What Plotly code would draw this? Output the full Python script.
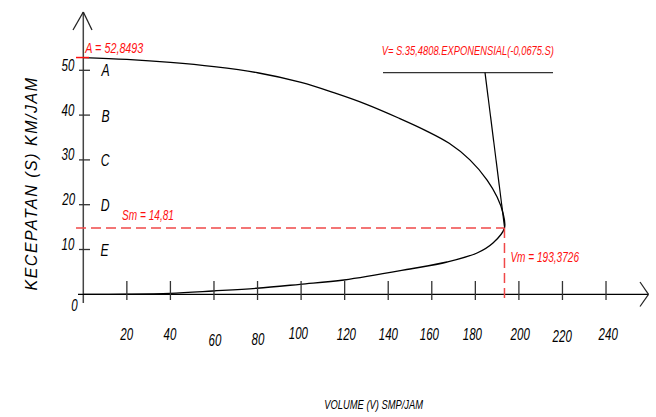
import json
import plotly.graph_objects as go

# Speed-volume relationship (upper and lower branch meet at capacity)
VOLUME = [0, 20, 40, 60, 80, 100, 115, 130, 145, 157, 168,
          177.5, 185.4, 190.0, 192.7, 193.3726,
          188.1, 180.8, 167.0, 150.0, 119.7, 99.5, 79.7, 59.5, 39.8, 20.0, 0]
SPEED = [52.8493, 52.42, 51.75, 50.8, 49.45, 47.3, 45.0, 42.4, 39.3, 36.6, 33.7,
         30.0, 25.5, 21.7, 18.1, 14.81,
         11.45, 9.22, 7.21, 5.65, 3.19, 2.23, 1.35, 0.74, 0.22, 0.04, 0]

X_TICKS = [20, 40, 60, 80, 100, 120, 140, 160, 180, 200, 220, 240]
Y_TICKS = [10, 20, 30, 40, 50]
LEVELS = ["E", "D", "C", "B", "A"]

S_FREE = 52.8493   # A
S_M = 14.81        # Sm
V_M = 193.3726     # Vm
FORMULA = "V= S.35,4808.EXPONENSIAL(-0,0675.S)"

# ---- page geometry (pixels) ----
W, H = 656, 417
X0PX, Y0PX = 83.3, 294.3       # origin
KX, KY = 2.178, 4.48           # pixels per unit


def dx(p):
    return (p - X0PX) / KX


def dy(p):
    return (Y0PX - p) / KY


def px_of_x(v):
    return X0PX + v * KX


def px_of_y(s):
    return Y0PX - s * KY


FONT = "Liberation Sans, Arial, sans-serif"
RED = "#ff1010"
DASH_RED = "#f04848"

fig = go.Figure()

fig.add_trace(go.Scatter(
    x=VOLUME, y=SPEED, mode="lines",
    line=dict(color="black", width=1.3, shape="spline", smoothing=1.0),
    hoverinfo="skip", showlegend=False,
))

shapes = []


def seg(x0, y0, x1, y1, color="black", width=1.2, dash=None):
    ln = dict(color=color, width=width)
    if dash:
        ln["dash"] = dash
    shapes.append(dict(type="line", xref="x", yref="y", x0=x0, y0=y0, x1=x1, y1=y1,
                       line=ln, layer="above"))


# axes with arrow heads
seg(0, dy(303), 0, dy(12), color="#444", width=1.5)
seg(dx(73), dy(30), 0, dy(12), color="#222", width=1.3)
seg(dx(92), dy(30), 0, dy(12), color="#222", width=1.3)
seg(dx(78), 0, dx(648.5), 0, color="black", width=1.3)
seg(dx(640), dy(282), dx(648.5), 0, color="#222", width=1.2)
seg(dx(640), dy(306.5), dx(648.5), 0, color="#222", width=1.2)

for v in X_TICKS:
    seg(v, dy(281), v, dy(300), color="#333", width=1.3)
for s in Y_TICKS:
    seg(dx(79), s, dx(90), s, color="#333", width=1.3)

# free-flow speed marker
seg(dx(76), S_FREE, dx(89), S_FREE, color=RED, width=1.5)

# capacity guide lines
seg(dx(76), S_M, V_M, S_M, color=DASH_RED, width=1.5, dash="10px,5px")
seg(V_M, S_M, V_M, dy(303), color=DASH_RED, width=1.5, dash="10px,5px")

# formula leader
seg(dx(383), dy(72.7), dx(553), dy(72.7), color="#333", width=1.3)
seg(dx(485), dy(72.7), V_M, S_M + 0.3, color="black", width=1.2)

annotations = []


def px_paper_x(p):
    return p / W


def px_paper_y(p):
    return 1 - p / H


def label(text, px, py, size, color="black", angle=0):
    annotations.append(dict(
        text=text, x=px_paper_x(px), y=px_paper_y(py), xref="paper", yref="paper",
        showarrow=False, xanchor="center", yanchor="middle", textangle=angle,
        font=dict(family=FONT, size=size, color=color, style="italic"),
    ))


# x tick labels (slight vertical stagger as drawn)
X_NUDGE = [0, 0, 6, 5, -1, 0, 0, 0, 0, 0, 2, 0]
X_SHIFT = [0, 0, 1, 0, -3, 2, 0, -2, -3, 1, 0, 2]
for v, ny, nx in zip(X_TICKS, X_NUDGE, X_SHIFT):
    label(str(v), px_of_x(v) + nx, 334 + ny, 16)

# y tick labels and level letters
for s, letter in zip(Y_TICKS, LEVELS):
    label(str(s), 68, px_of_y(s) - 5, 16)
    label(letter, 105, px_of_y(s) + (0 if letter == "A" else 1), 17)
label("0", 74, 305, 16)

# value labels
label("A = " + f"{S_FREE:.4f}".replace(".", ","), 114.5, 48, 15, color=RED)
label("Sm = " + f"{S_M:.2f}".replace(".", ","), 147.5, 215, 14, color=RED)
label("Vm = " + f"{V_M:.4f}".replace(".", ","), 545, 257, 14, color=RED)
label(FORMULA, 468, 50, 13, color=RED)

# axis titles
label("VOLUME (V) SMP/JAM", 373, 404, 13)
label("KECEPATAN (S) KM/JAM", 31.5, 183, 16, angle=-90)

fig.update_layout(
    width=W, height=H,
    margin=dict(l=0, r=0, t=0, b=0),
    paper_bgcolor="white", plot_bgcolor="white",
    xaxis=dict(range=[dx(0), dx(W)], visible=False, fixedrange=True),
    yaxis=dict(range=[dy(H), dy(0)], visible=False, fixedrange=True),
    shapes=shapes, annotations=annotations,
    showlegend=False,
)

# condensed lettering for the annotation texts; the speed axis title is tracked out
CONDENSED_CSS = (
    ".annotation-text{transform:scaleX(0.72);transform-box:fill-box;"
    "transform-origin:center;}"
    ".annotation-text[data-unformatted^='KECEPATAN']{transform:none;"
    "letter-spacing:1.5px;}"
)
POST = ("var st=document.createElement('style');st.textContent="
        + json.dumps(CONDENSED_CSS) + ";document.head.appendChild(st);")

fig.write_html("out.html", post_script=POST)
